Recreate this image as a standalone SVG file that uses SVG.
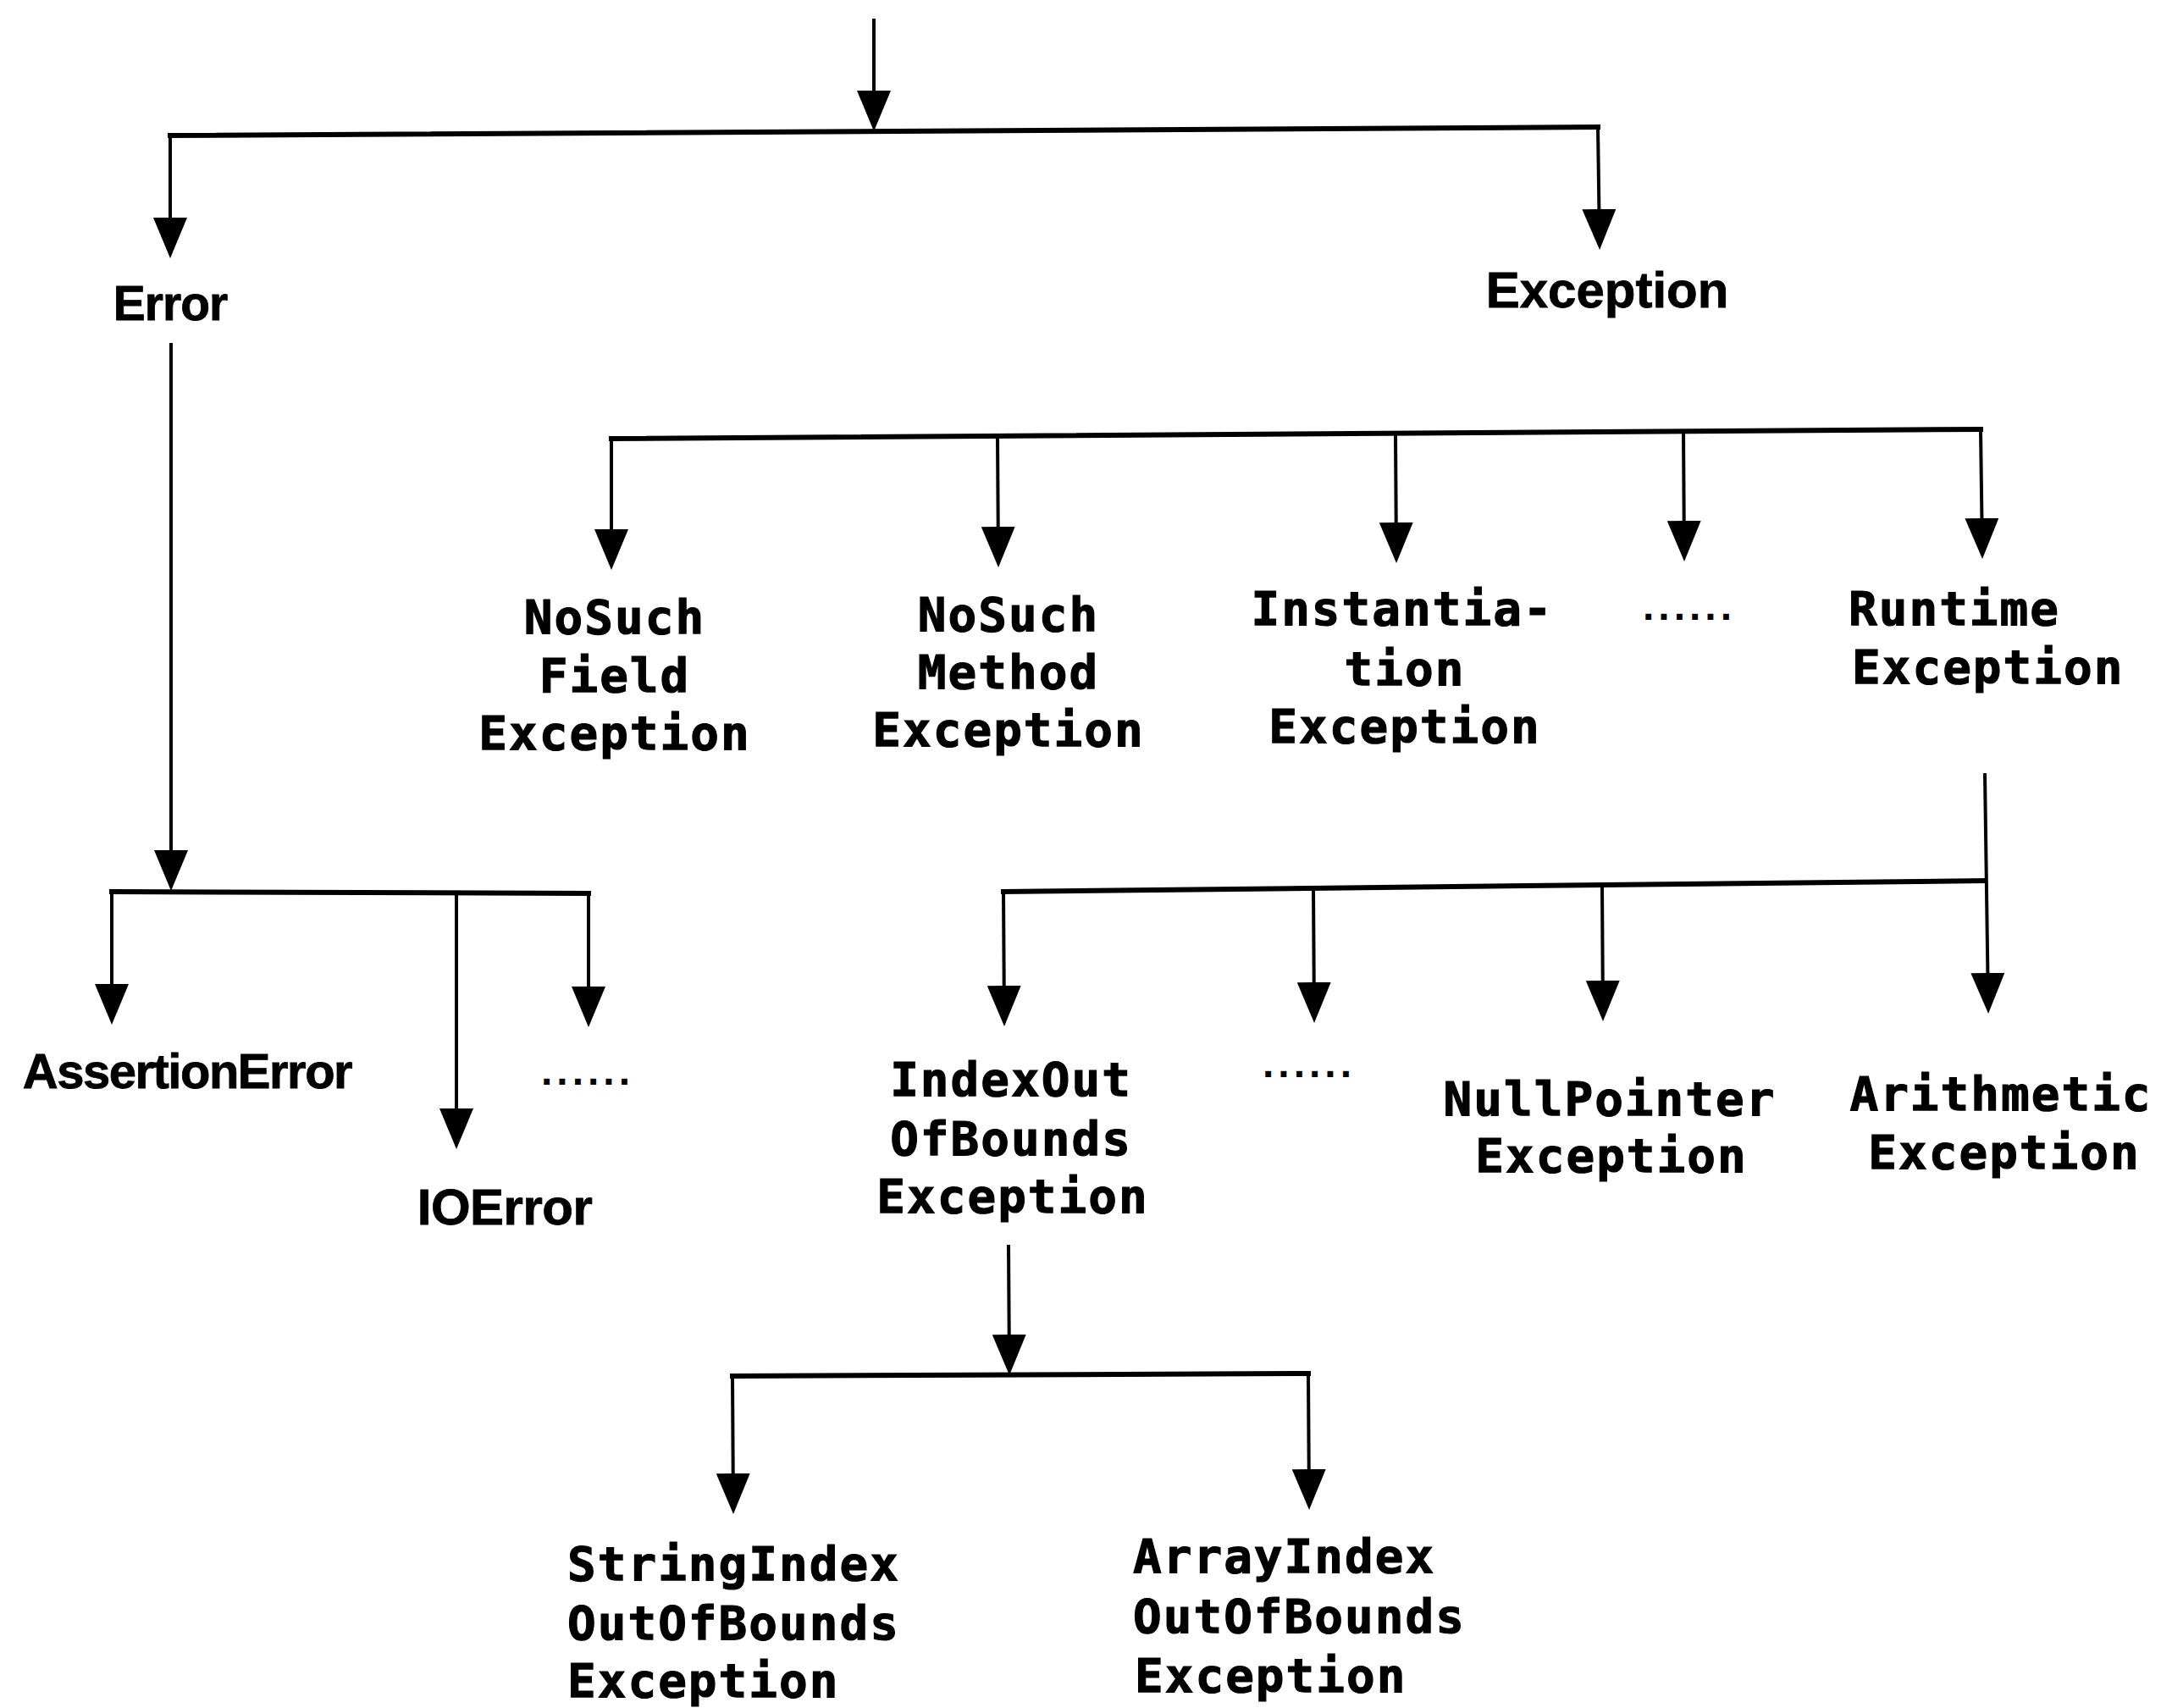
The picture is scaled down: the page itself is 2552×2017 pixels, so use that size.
<svg xmlns="http://www.w3.org/2000/svg" width="2552" height="2017" viewBox="0 0 2552 2017">
  <style>
    .bg { fill: #ffffff; }
    .bar { stroke: #000; stroke-width: 6; fill: none; stroke-linecap: square; }
    .drop { stroke: #000; stroke-width: 4; fill: none; marker-end: url(#ah); }
    .sans { font-family: "Liberation Sans", Arial, sans-serif; font-weight: bold; fill: #000; stroke: #000; stroke-width: 0.8; }
    .mono { font-family: "DejaVu Sans Mono", "Liberation Mono", monospace; font-weight: bold; font-size: 56px; letter-spacing: 2px; fill: #000; stroke: #000; stroke-width: 1.2; }
    .dots { font-family: "Liberation Sans", Arial, sans-serif; font-weight: bold; font-size: 48px; letter-spacing: 5px; fill: #000; }
  </style>
  <defs>
    <marker id="ah" viewBox="0 0 48 40" refX="42" refY="20" markerWidth="48" markerHeight="40" markerUnits="userSpaceOnUse" orient="auto">
      <path d="M0,0 L48,20 L0,40 Z" fill="#000"/>
    </marker>
  </defs>
  <rect class="bg" x="0" y="0" width="2552" height="2017"/>

  <!-- connectors -->
  <g id="connectors">
    <!-- root into Error / Exception -->
    <line class="drop" x1="1032" y1="22" x2="1032" y2="149"/>
    <line class="bar" x1="201" y1="160" x2="1887" y2="150"/>
    <line class="drop" x1="201" y1="160" x2="201" y2="299"/>
    <line class="drop" x1="1887" y1="150" x2="1889" y2="289"/>

    <!-- Error subtree -->
    <line class="drop" x1="202" y1="405" x2="202" y2="1046"/>
    <line class="bar" x1="132" y1="1053" x2="695" y2="1055"/>
    <line class="drop" x1="132" y1="1053" x2="132" y2="1204"/>
    <line class="drop" x1="539" y1="1054" x2="539" y2="1351"/>
    <line class="drop" x1="695" y1="1055" x2="695" y2="1207"/>

    <!-- Exception subtree -->
    <line class="bar" x1="722" y1="518" x2="2339" y2="507"/>
    <line class="drop" x1="722" y1="518" x2="722" y2="667"/>
    <line class="drop" x1="1178" y1="515" x2="1179" y2="664"/>
    <line class="drop" x1="1648" y1="512" x2="1649" y2="659"/>
    <line class="drop" x1="1988" y1="509" x2="1989" y2="657"/>
    <line class="drop" x1="2339" y1="507" x2="2341" y2="654"/>

    <!-- RuntimeException subtree -->
    <line class="bar" x1="1185" y1="1053" x2="2344" y2="1040"/>
    <line class="drop" x1="2344" y1="913" x2="2348" y2="1191"/>
    <line class="drop" x1="1185" y1="1053" x2="1186" y2="1206"/>
    <line class="drop" x1="1551" y1="1049" x2="1552" y2="1202"/>
    <line class="drop" x1="1892" y1="1045" x2="1893" y2="1200"/>

    <!-- IndexOutOfBoundsException subtree -->
    <line class="drop" x1="1191" y1="1470" x2="1192" y2="1618"/>
    <line class="bar" x1="865" y1="1625" x2="1545" y2="1622"/>
    <line class="drop" x1="865" y1="1625" x2="866" y2="1782"/>
    <line class="drop" x1="1545" y1="1622" x2="1546" y2="1777"/>
  </g>

  <!-- nodes -->
  <g id="node-error">
    <text class="sans" x="201" y="378" font-size="57" letter-spacing="-1" text-anchor="middle">Error</text>
  </g>
  <g id="node-exception">
    <text class="sans" x="1898" y="363" font-size="60" text-anchor="middle">Exception</text>
  </g>
  <g id="node-assertion-error">
    <text class="sans" x="221" y="1285" font-size="58" letter-spacing="-1.5" text-anchor="middle">AssertionError</text>
  </g>
  <g id="node-io-error">
    <text class="sans" x="596" y="1446" font-size="60" letter-spacing="-0.5" text-anchor="middle">IOError</text>
  </g>
  <g id="node-error-more">
    <text class="dots" x="639" y="1281">......</text>
  </g>

  <g id="node-nosuchfield">
    <text class="mono" text-anchor="middle" x="726" y="748">NoSuch</text>
    <text class="mono" text-anchor="middle" x="726" y="817">Field</text>
    <text class="mono" text-anchor="middle" x="726" y="885">Exception</text>
  </g>
  <g id="node-nosuchmethod">
    <text class="mono" text-anchor="middle" x="1191" y="745">NoSuch</text>
    <text class="mono" text-anchor="middle" x="1191" y="813">Method</text>
    <text class="mono" text-anchor="middle" x="1191" y="881">Exception</text>
  </g>
  <g id="node-instantiation">
    <text class="mono" text-anchor="middle" x="1656" y="738">Instantia-</text>
    <text class="mono" text-anchor="middle" x="1659" y="809">tion</text>
    <text class="mono" text-anchor="middle" x="1659" y="877">Exception</text>
  </g>
  <g id="node-exception-more">
    <text class="dots" x="1940" y="732">......</text>
  </g>
  <g id="node-runtime">
    <text class="mono" x="2183" y="738">Runtime</text>
    <text class="mono" x="2187" y="807">Exception</text>
  </g>

  <g id="node-indexoutofbounds">
    <text class="mono" text-anchor="middle" x="1194" y="1294">IndexOut</text>
    <text class="mono" text-anchor="middle" x="1194" y="1364">OfBounds</text>
    <text class="mono" text-anchor="middle" x="1196" y="1432">Exception</text>
  </g>
  <g id="node-runtime-more">
    <text class="dots" x="1491" y="1272">......</text>
  </g>
  <g id="node-nullpointer">
    <text class="mono" text-anchor="middle" x="1901" y="1317">NullPointer</text>
    <text class="mono" text-anchor="middle" x="1903" y="1384">Exception</text>
  </g>
  <g id="node-arithmetic">
    <text class="mono" text-anchor="middle" x="2363" y="1311">Arithmetic</text>
    <text class="mono" text-anchor="middle" x="2367" y="1380">Exception</text>
  </g>

  <g id="node-stringindex">
    <text class="mono" x="670" y="1866">StringIndex</text>
    <text class="mono" x="670" y="1936">OutOfBounds</text>
    <text class="mono" x="670" y="2004">Exception</text>
  </g>
  <g id="node-arrayindex">
    <text class="mono" x="1338" y="1857">ArrayIndex</text>
    <text class="mono" x="1338" y="1928">OutOfBounds</text>
    <text class="mono" x="1340" y="1998">Exception</text>
  </g>
</svg>
